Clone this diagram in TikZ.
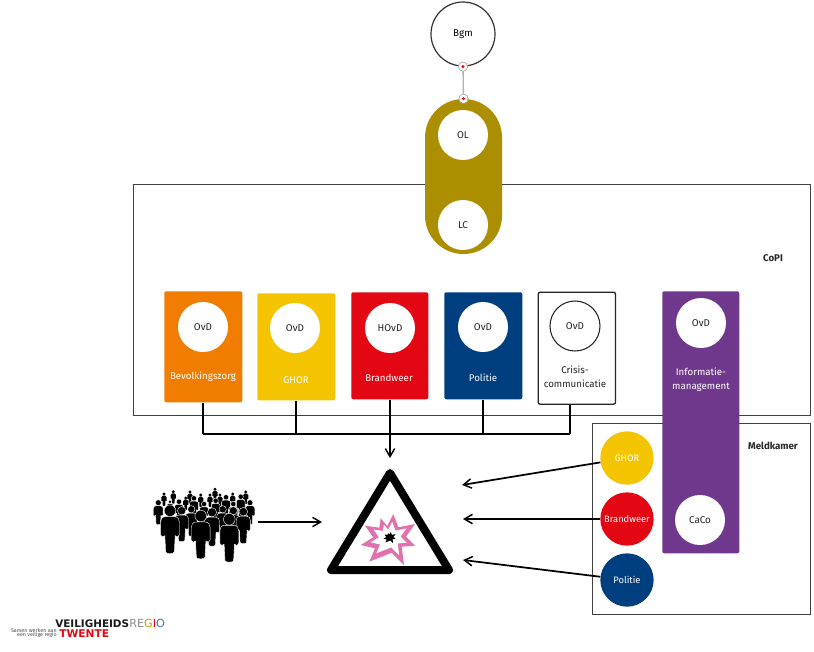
\documentclass[tikz,border=0pt]{standalone}
\usepackage{fontspec}
\setmainfont{Fira Sans}
\newfontfamily\logofont{DejaVu Sans}
\usetikzlibrary{arrows.meta}
\definecolor{vrorange}{HTML}{F07D00}
\definecolor{vryellow}{HTML}{F5C400}
\definecolor{vrred}{HTML}{E30613}
\definecolor{vrblue}{HTML}{003F7F}
\definecolor{vrpurple}{HTML}{6F388C}
\definecolor{vrolive}{HTML}{AB8F00}
\definecolor{vrpink}{HTML}{E171AD}
\tikzset{
  frame/.style={draw=black!75,line width=0.7pt,fill=none},
  card/.style={rectangle,rounded corners=1.5pt,inner sep=0pt,anchor=north west},
  disc/.style={circle,fill=white,inner sep=0pt,minimum size=37.5pt,font=\fontsize{7.4pt}{8pt}\selectfont,text=black!85},
  cardlabel/.style={text=white,align=center,font=\fontsize{7.3pt}{10.5pt}\selectfont,inner sep=0pt},
  colordisc/.style={circle,inner sep=0pt,minimum size=40pt,text=white,font=\fontsize{7pt}{8pt}\selectfont},
  heading/.style={font=\fontsize{7.3pt}{8pt}\selectfont\bfseries,text=black!85},
  link/.style={line width=1.5pt,black},
  flow/.style={line width=1.3pt,black,-{Straight Barb[length=6pt,width=7pt,line width=1.1pt]}},
  handle/.style={circle,draw=black!35,line width=0.5pt,fill=white,minimum size=7pt,inner sep=0pt},
  dot/.style={circle,fill=red,minimum size=2.5pt,inner sep=0pt},
}
% head x, head y, head-to-foot length, outline colour
\newcommand{\prs}[4]{%
  \begin{scope}[shift={(#1,#2)},x=#3*0.75pt,y=#3*-0.75pt]
    \fill[black,draw=#4,line width=0.3pt] (0,0) circle (0.135);
    \fill[black,draw=#4,line width=0.3pt] (-0.1,0.14)
      .. controls (-0.19,0.14) and (-0.22,0.2) .. (-0.22,0.27)
      -- (-0.22,0.56) .. controls (-0.22,0.62) and (-0.14,0.62) .. (-0.12,0.58)
      -- (-0.1,0.96) .. controls (-0.1,1.01) and (0.1,1.01) .. (0.1,0.96)
      -- (0.12,0.58) .. controls (0.14,0.62) and (0.22,0.62) .. (0.22,0.56)
      -- (0.22,0.27) .. controls (0.22,0.2) and (0.19,0.14) .. (0.1,0.14) -- cycle;
  \end{scope}}
\newcommand{\blast}{(-25,-11.3) -- (-10.7,-9.3) -- (-9.3,-18.7) -- (-2.7,-11) -- (3.3,-23) -- (8.3,-9.7) -- (25,-13) -- (16,-.3) -- (25,8.7) -- (11.7,9.7) -- (14,28) -- (1.7,15.7) -- (-20.7,24.7) -- (-15,11.3) -- (-29.3,8) -- (-16.7,.3) -- cycle}
\begin{document}
\begin{tikzpicture}[x=0.75pt,y=-0.75pt]
\useasboundingbox (0,0) rectangle (814,651);
% frames
\draw[frame] (133,184) rectangle (810,415);
\draw[frame] (592,423) rectangle (810,614);
\node[heading] (copi) at (773,258) {CoPI};
\node[heading] (meld) at (773,446) {Meldkamer};
% top
\node[circle,draw=black!80,line width=0.9pt,fill=white,minimum size=48pt,inner sep=0pt,font=\fontsize{7.4pt}{8pt}\selectfont] (bgm) at (463,34) {Bgm};
\node[rectangle,rounded corners=28.8pt,fill=vrolive,minimum width=57.75pt,minimum height=116.25pt,inner sep=0pt] (cap) at (463.5,176.5) {};
\node[disc] (ol) at (463,135) {OL};
\node[disc] (lc) at (463,225) {LC};
\draw[black!30,line width=1pt] (bgm.south) -- (cap.north);
\node[handle] at (bgm.south) {};\node[dot] at (bgm.south) {};
\node[handle] at (cap.north) {};\node[dot] at (cap.north) {};
% cards
\node[card,fill=vrorange,minimum width=58.5pt,minimum height=83.25pt] (c1) at (164,291) {};
\node[card,fill=vryellow,minimum width=58.5pt,minimum height=80.25pt] (c2) at (257,293) {};
\node[card,fill=vrred,minimum width=57.75pt,minimum height=80.25pt] (c3) at (351,292) {};
\node[card,fill=vrblue,minimum width=58.5pt,minimum height=80.25pt] (c4) at (444,292) {};
\node[card,draw=black!85,line width=1pt,fill=white,minimum width=58pt,minimum height=84pt] (c5) at (537.5,291.5) {};
\node[card,fill=vrpurple,minimum width=57.75pt,minimum height=196.5pt] (c6) at (662,291) {};
\node[disc] (d1) at (203,327) {OvD};
\node[disc] (d2) at (295,328) {OvD};
\node[disc] (d3) at (390,328) {HOvD};
\node[disc] (d4) at (483,327) {OvD};
\node[disc,draw=black!85,line width=0.8pt] (d5) at (575,326) {OvD};
\node[disc] (d6) at (701,323) {OvD};
\node[disc] (d7) at (700,520) {CaCo};
\node[cardlabel] (l1) at (203,377) {Bevolkingszorg};
\node[cardlabel] (l2) at (296,380) {GHOR};
\node[cardlabel] (l3) at (389,378) {Brandweer};
\node[cardlabel] (l4) at (483,378) {Politie};
\node[cardlabel,text=black!85] (l5) at (575,377) {Crisis-\\communicatie};
\node[cardlabel] (l6) at (701,380) {Informatie-\\management};
% meldkamer discs
\node[colordisc,fill=vryellow] (m1) at (627,458) {GHOR};
\node[colordisc,fill=vrred] (m2) at (627,519) {Brandweer};
\node[colordisc,fill=vrblue] (m3) at (627,580) {Politie};
% triangle
\coordinate (t1) at (390,473);
\coordinate (t2) at (331,570);
\coordinate (t3) at (449,570);
\draw[line width=6pt,line join=round,black] (t1) -- (t2) -- (t3) -- cycle;
\begin{scope}[shift={(390,537)}]
  \fill[vrpink] \blast;
  \begin{scope}[x=0.75*0.66pt,y=-0.75*0.66pt]\fill[white] \blast;\end{scope}
  \begin{scope}[x=0.75*0.22pt,y=-0.75*0.22pt]\fill[black] \blast;\end{scope}
\end{scope}
% connectors
\coordinate (hz) at (390,434);
\coordinate (tin) at (390,458);
\foreach \c/\x in {c1/203,c2/296,c3/390,c4/483,c5/570}{
  \draw[link] (\c.south -| \x,0) -- (\x,434);
}
\draw[link] (203,434) -- (570,434);
\draw[flow] (hz) -- (tin);
\coordinate (a1) at (462,485);
\coordinate (a2) at (463,519);
\coordinate (a3) at (463,560);
\draw[flow] (m1) -- (a1);
\draw[flow] (m2) -- (a2);
\draw[flow] (m3) -- (a3);
\coordinate (cr) at (258,522);
\coordinate (ca) at (322,522);
\draw[flow] (cr) -- (ca);
% crowd
\foreach \x/\y/\h in {164/494/12,173.3/491.7/12,190/492/12,215/489.3/12,245.7/492/12,185.7/498/12,200.7/495/12,210/495/12,220/495/12,232.7/494/12}{\prs{\x}{\y}{\h}{none}}
\foreach \x/\y/\h in {194/498.3/20,226/497.3/20,240.7/496.7/20,215.7/500.7/20,204/504/20,233.3/504/20,158.3/502.7/22,250/502.7/22,179/501.7/20,170/501.7/14}{\prs{\x}{\y}{\h}{white}}
\foreach \x/\y/\h in {191.3/509.3/27,222.7/509.3/27,233.3/510.7/30,181.7/510.7/31,212/512.3/34,243.3/511.7/32}{\prs{\x}{\y}{\h}{white}}
\foreach \x/\y/\h in {170/510.7/43,200.7/516/43,229.3/519.3/43}{\prs{\x}{\y}{\h}{white}}
% logo
\node[anchor=west,inner sep=0pt,font=\fontsize{7.8pt}{8pt}\selectfont\logofont\bfseries,text=black!90] (v) at (55,623.3) {VEILIGHEIDS};
\node[anchor=west,inner sep=0pt,font=\fontsize{8.4pt}{8pt}\selectfont\logofont] (r) at (129,623.3) {\textcolor{black!45}{R}\textcolor{black!45}{E}\textcolor{vryellow!80!black}{G}\textcolor{vrred}{I}\textcolor{vrblue!70}{O}};
\node[anchor=west,inner sep=0pt,font=\fontsize{8pt}{8pt}\selectfont\logofont\bfseries,text=vrred] (t) at (59,634) {TWENTE};
\node[anchor=east,inner sep=0pt,align=right,font=\fontsize{4pt}{3.6pt}\selectfont,text=black!70] (s) at (57,633) {Samen werken aan\\een veilige regio};
\end{tikzpicture}
\end{document}
